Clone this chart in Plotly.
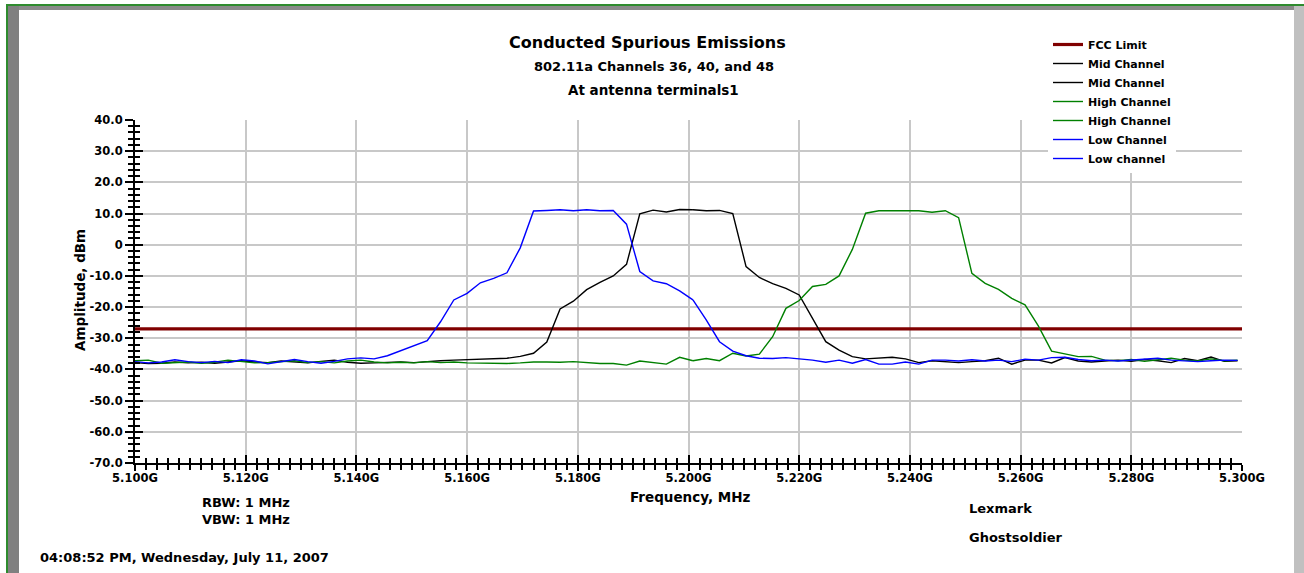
import plotly.graph_objects as go

# ---------------- data ----------------
freq_mhz = [5100 + 2.4 * k for k in range(84)]  # analyzer sweep points

low_channel = [
    -37.5, -37.9, -37.6, -36.9, -37.5, -37.8, -37.4, -37.8, -36.9, -37.3,
    -38.2, -37.4, -36.8, -37.5, -38.0, -37.4, -36.6, -36.3, -36.6, -35.6,
    -34.0, -32.4, -30.8, -24.7, -17.7, -15.6, -12.2, -10.8, -9.0, -1.0,
    10.8, 11.0, 11.2, 10.9, 11.2, 10.9, 11.0, 6.6, -8.6, -11.6,
    -12.5, -14.8, -17.7, -24.1, -31.1, -34.1, -35.6, -36.4, -36.5, -36.2,
    -36.6, -37.0, -37.7, -37.0, -38.0, -36.8, -38.3, -38.3, -37.6, -38.3,
    -37.0, -37.0, -37.3, -36.9, -37.3, -37.0, -37.5, -36.7, -37.0, -36.2,
    -36.1, -36.8, -37.2, -37.0, -37.3, -37.0, -36.6, -36.4, -37.0, -37.3,
    -37.5, -37.2, -37.0, -37.1,
]

mid_channel = [
    -37.8, -38.1, -38.0, -37.6, -37.9, -37.7, -38.0, -37.5, -37.2, -37.6,
    -37.8, -37.3, -37.6, -37.9, -37.4, -37.0, -37.7, -38.0, -37.9, -37.8,
    -37.6, -37.8, -37.4, -37.2, -37.0, -36.8, -36.6, -36.4, -36.4, -35.8,
    -34.8, -31.2, -20.6, -18.1, -14.4, -12.1, -10.0, -6.3, 9.9, 11.1,
    10.5, 11.3, 11.2, 10.9, 11.0, 10.0, -7.0, -10.5, -12.5, -14.0,
    -16.1, -23.6, -31.1, -33.8, -35.9, -36.6, -36.4, -36.1, -36.6, -37.8,
    -37.2, -37.5, -37.8, -37.5, -37.2, -36.4, -38.3, -37.0, -37.0, -37.9,
    -36.2, -37.3, -37.6, -37.3, -37.0, -37.4, -36.8, -37.2, -37.8, -36.5,
    -37.2, -36.0, -37.4, -37.2,
]

high_channel = [
    -37.2, -37.0, -38.0, -37.8, -37.6, -38.0, -37.7, -37.0, -37.4, -37.9,
    -37.8, -37.6, -37.2, -37.8, -37.5, -37.9, -37.3, -37.0, -37.6, -37.9,
    -37.7, -37.9, -37.5, -37.8, -37.6, -37.9, -38.0, -38.0, -38.1, -37.9,
    -37.6, -37.6, -37.7, -37.5, -37.9, -38.1, -38.1, -38.6, -37.3, -37.9,
    -38.3, -36.1, -37.2, -36.5, -37.2, -34.8, -35.7, -35.1, -29.5, -20.4,
    -17.9, -13.4, -12.7, -10.0, -1.5, 10.1, 10.9, 10.8, 10.9, 10.9,
    10.4, 10.9, 8.7, -9.2, -12.4, -14.3, -17.2, -19.3, -26.0, -34.1,
    -35.1, -35.9, -35.8, -37.0, -37.2, -36.8, -37.4, -37.0, -36.4, -37.0,
    -37.3, -36.6, -37.2, -37.0,
]

fcc_limit_dbm = -27.0
x_range = [5100, 5300]
y_range = [-70, 40]

x_tickvals = [5100, 5120, 5140, 5160, 5180, 5200, 5220, 5240, 5260, 5280, 5300]
x_ticktext = ["5.100G", "5.120G", "5.140G", "5.160G", "5.180G", "5.200G",
              "5.220G", "5.240G", "5.260G", "5.280G", "5.300G"]
y_tickvals = [40, 30, 20, 10, 0, -10, -20, -30, -40, -50, -60, -70]
y_ticktext = ["40.0", "30.0", "20.0", "10.0", "0", "-10.0", "-20.0",
              "-30.0", "-40.0", "-50.0", "-60.0", "-70.0"]

# ---------------- figure ----------------
W, H = 1304, 573
L, R, T, B = 135, 62, 120, 110
PW, PH = W - L - R, H - T - B

def px(xp):
    return (xp - L) / PW

def py(yp):
    return (H - B - yp) / PH

FONT = "DejaVu Sans, Verdana, sans-serif"
SPLIT = 42

fig = go.Figure()
fig.add_trace(go.Scatter(x=x_range, y=[fcc_limit_dbm, fcc_limit_dbm], mode="lines",
                         name="FCC Limit", line=dict(color="#800000", width=3.2)))

series = [
    ("Mid Channel", "Mid Channel", mid_channel, "#000000"),
    ("High Channel", "High Channel", high_channel, "#008000"),
    ("Low Channel", "Low channel", low_channel, "#0000ff"),
]
for n1, n2, vals, col in series:
    fig.add_trace(go.Scatter(x=freq_mhz[:SPLIT + 1], y=vals[:SPLIT + 1], mode="lines",
                             name=n1, line=dict(color=col, width=1.4)))
    fig.add_trace(go.Scatter(x=freq_mhz[SPLIT:], y=vals[SPLIT:], mode="lines",
                             name=n2, line=dict(color=col, width=1.4)))

# empty trace to host the inside-tick overlay axes
fig.add_trace(go.Scatter(x=[], y=[], xaxis="x2", yaxis="y2", showlegend=False,
                         hoverinfo="skip"))

tickfont = dict(family=FONT, size=11.5, color="black", weight="bold")
common = dict(showline=True, linecolor="black", linewidth=2, zeroline=False,
              tickcolor="black", tickwidth=2)

fig.update_layout(
    width=W, height=H,
    margin=dict(l=L, r=R, t=T, b=B),
    paper_bgcolor="white", plot_bgcolor="white",
    showlegend=True,
    legend=dict(x=px(1048), y=py(30), xanchor="left", yanchor="top",
                bgcolor="white", font=dict(family=FONT, size=11, color="black", weight="bold"),
                tracegroupgap=0, itemclick=False),
    xaxis=dict(range=x_range, tickvals=x_tickvals, ticktext=x_ticktext,
               ticks="outside", ticklen=6, tickfont=tickfont, ticklabelstandoff=-3,
               showgrid=True, gridcolor="#c8c8c8", gridwidth=1.5,
               minor=dict(dtick=2, ticks="outside", ticklen=5, tickcolor="black",
                          tickwidth=1.5, showgrid=False),
               **common),
    yaxis=dict(range=y_range, tickvals=y_tickvals, ticktext=y_ticktext,
               ticks="outside", ticklen=8, tickfont=tickfont,
               showgrid=True, gridcolor="#c8c8c8", gridwidth=1.5,
               minor=dict(dtick=2, ticks="outside", ticklen=5, tickcolor="black",
                          tickwidth=1.5, showgrid=False),
               **common),
    xaxis2=dict(range=x_range, overlaying="x", anchor="y2", tickvals=x_tickvals,
                ticks="inside", ticklen=8, showticklabels=False, showgrid=False,
                minor=dict(dtick=2, ticks="inside", ticklen=5, tickcolor="black",
                           tickwidth=1.5, showgrid=False),
                **common),
    yaxis2=dict(range=y_range, overlaying="y", anchor="x2", tickvals=y_tickvals,
                ticks="inside", ticklen=8, showticklabels=False, showgrid=False,
                minor=dict(dtick=2, ticks="inside", ticklen=5, tickcolor="black",
                           tickwidth=1.5, showgrid=False),
                **common),
)

def note(text, xp, yp, size, anchor="center", angle=0):
    fig.add_annotation(text=text, x=px(xp), y=py(yp), xref="paper", yref="paper",
                       xanchor=anchor, yanchor="middle", showarrow=False, textangle=angle,
                       font=dict(family=FONT, size=size, color="black", weight="bold"))

note("Conducted Spurious Emissions", 647, 43, 16)
note("802.11a Channels 36, 40, and 48", 654, 67, 13)
note("At antenna terminals1", 653, 90, 13.5)
note("Amplitude, dBm", 80, 290, 13.5, angle=-90)
note("Frequency, MHz", 690, 497, 13.5)
note("RBW: 1 MHz", 200, 502, 13, anchor="left")
note("VBW: 1 MHz", 200, 519, 13, anchor="left")
note("04:08:52 PM, Wednesday, July 11, 2007", 38, 557, 13, anchor="left")
note("Lexmark", 967, 508, 13, anchor="left")
note("Ghostsoldier", 967, 537, 13, anchor="left")

# window frame
def rect(x0, y0, x1, y1, color):
    fig.add_shape(type="rect", xref="paper", yref="paper",
                  x0=px(x0), x1=px(x1), y0=py(y1), y1=py(y0),
                  fillcolor=color, line=dict(width=0), layer="above")

rect(6, 4, 1304, 6, "#2e8b2e")        # top green line
rect(6, 4, 8, 573, "#2e8b2e")          # left green line
rect(8, 6, 1294, 10, "#8a8a8a")        # top gray band
rect(8, 6, 19, 573, "#808080")         # left gray band
rect(1294, 6, 1304, 573, "#c0c0c0")    # right light-gray band

fig.write_html("out.html")
